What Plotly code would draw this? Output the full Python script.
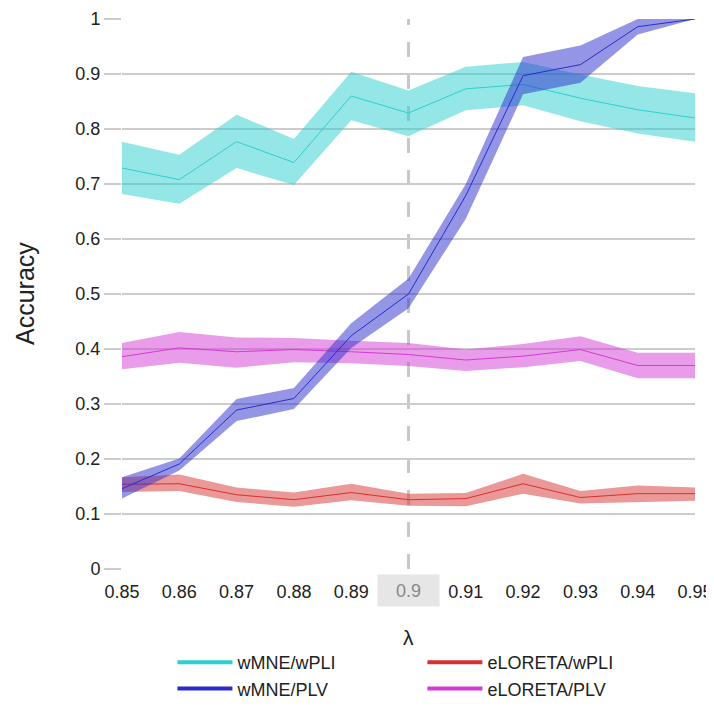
import plotly.graph_objects as go

lam = [0.85, 0.86, 0.87, 0.88, 0.89, 0.90, 0.91, 0.92, 0.93, 0.94, 0.95]

wmne_wpli_mean = [0.729, 0.708, 0.777, 0.739, 0.860, 0.829, 0.873, 0.881, 0.856, 0.835, 0.820]
wmne_wpli_hi = [0.777, 0.753, 0.826, 0.782, 0.904, 0.870, 0.913, 0.922, 0.899, 0.878, 0.865]
wmne_wpli_lo = [0.682, 0.664, 0.729, 0.698, 0.816, 0.787, 0.834, 0.843, 0.814, 0.792, 0.777]

wmne_plv_mean = [0.146, 0.191, 0.289, 0.310, 0.424, 0.500, 0.679, 0.897, 0.917, 0.986, 1.0]
wmne_plv_hi = [0.167, 0.201, 0.309, 0.329, 0.447, 0.528, 0.700, 0.931, 0.952, 1.0, 1.0]
wmne_plv_lo = [0.128, 0.179, 0.269, 0.291, 0.402, 0.474, 0.637, 0.863, 0.884, 0.972, 1.0]

eloreta_plv_mean = [0.386, 0.402, 0.395, 0.399, 0.395, 0.390, 0.380, 0.387, 0.399, 0.370, 0.370]
eloreta_plv_hi = [0.411, 0.431, 0.421, 0.420, 0.415, 0.411, 0.399, 0.409, 0.423, 0.393, 0.393]
eloreta_plv_lo = [0.363, 0.375, 0.366, 0.376, 0.374, 0.369, 0.360, 0.367, 0.378, 0.347, 0.347]

eloreta_wpli_mean = [0.154, 0.155, 0.135, 0.126, 0.139, 0.126, 0.128, 0.155, 0.130, 0.137, 0.137]
eloreta_wpli_hi = [0.167, 0.172, 0.148, 0.139, 0.155, 0.137, 0.138, 0.173, 0.142, 0.152, 0.148]
eloreta_wpli_lo = [0.140, 0.142, 0.122, 0.113, 0.125, 0.115, 0.114, 0.137, 0.119, 0.122, 0.124]

x_tick_vals = [0.85, 0.86, 0.87, 0.88, 0.89, 0.90, 0.91, 0.92, 0.93, 0.94, 0.95]
x_tick_text = ["0.85", "0.86", "0.87", "0.88", "0.89", "", "0.91", "0.92", "0.93", "0.94", "0.95"]
y_tick_vals = [0, 0.1, 0.2, 0.3, 0.4, 0.5, 0.6, 0.7, 0.8, 0.9, 1.0]
y_tick_text = ["0", "0.1", "0.2", "0.3", "0.4", "0.5", "0.6", "0.7", "0.8", "0.9", "1"]

series = [
    ("wMNE/wPLI", wmne_wpli_mean, wmne_wpli_lo, wmne_wpli_hi, "#2bd0d0", "rgba(43,208,208,0.5)"),
    ("eLORETA/wPLI", eloreta_wpli_mean, eloreta_wpli_lo, eloreta_wpli_hi, "#d63131", "rgba(214,49,49,0.5)"),
    ("eLORETA/PLV", eloreta_plv_mean, eloreta_plv_lo, eloreta_plv_hi, "#d43ad4", "rgba(212,58,212,0.5)"),
    ("wMNE/PLV", wmne_plv_mean, wmne_plv_lo, wmne_plv_hi, "#2b2bcc", "rgba(43,43,204,0.5)"),
]
legend_order = ["wMNE/wPLI", "eLORETA/wPLI", "wMNE/PLV", "eLORETA/PLV"]

fig = go.Figure()
for name, mean, lo, hi, col, fcol in series:
    fig.add_trace(go.Scatter(x=lam, y=lo, mode="lines", line=dict(width=0, color=col),
                             showlegend=False, hoverinfo="skip"))
    fig.add_trace(go.Scatter(x=lam, y=hi, mode="lines", line=dict(width=0, color=col),
                             fill="tonexty", fillcolor=fcol, showlegend=False, hoverinfo="skip"))
    fig.add_trace(go.Scatter(x=lam, y=mean, mode="lines", line=dict(width=1, color=col),
                             name=name, showlegend=False))

colors = {s[0]: s[4] for s in series}
for i, name in enumerate(legend_order):
    fig.add_trace(go.Scatter(x=[None], y=[None], mode="lines", name=name,
                             line=dict(width=4, color=colors[name]), legendrank=i + 1))

fig.add_shape(type="line", xref="x", yref="paper", x0=0.9, x1=0.9, y0=0, y1=1,
              line=dict(color="#c8c8c8", width=3, dash="15px,17px"), layer="below")

fig.add_annotation(x=0.9, xref="x", y=0, yref="paper", yanchor="middle", yshift=-21.5,
                   text="0.9", showarrow=False, bgcolor="#e6e6e6", width=59, height=29,
                   font=dict(size=18, color="#888888", family="Liberation Sans, Arial"))
fig.add_annotation(x=0.5, xref="paper", y=0, yref="paper", yanchor="middle", yshift=-68,
                   text="λ", showarrow=False,
                   font=dict(size=21, color="#222222", family="Liberation Sans, Arial"))
fig.add_annotation(x=0, xref="paper", y=0.5, yref="paper", xanchor="center", xshift=-97,
                   text="Accuracy", textangle=-90, showarrow=False,
                   font=dict(size=25, color="#222222", family="Liberation Sans, Arial"))

fig.update_layout(
    width=706, height=696,
    margin=dict(l=114, r=19, t=11, b=135, autoexpand=False),
    paper_bgcolor="white", plot_bgcolor="white",
    font=dict(family="Liberation Sans, Arial", size=18, color="#222222"),
    xaxis=dict(range=[0.85, 0.95], tickvals=x_tick_vals, ticktext=x_tick_text,
               showgrid=False, zeroline=False, showline=False,
               ticks="outside", ticklen=6, tickcolor="rgba(0,0,0,0)",
               ticklabeloverflow="allow",
               tickfont=dict(size=18, color="#222222")),
    yaxis=dict(range=[0, 1.0], tickvals=y_tick_vals, ticktext=y_tick_text,
               showgrid=True, gridcolor="#cccccc", gridwidth=2, zeroline=False,
               showline=False, ticks="outside", ticklen=17, tickcolor="#cccccc", tickwidth=2,
               ticklabeloverflow="allow",
               tickfont=dict(size=18, color="#222222")),
    showlegend=True,
    legend=dict(orientation="h", x=0.088, xanchor="left", y=-0.1364, yanchor="top",
                traceorder="normal",
                entrywidth=180, entrywidthmode="pixels", itemwidth=55,
                font=dict(size=18, color="#222222"), bgcolor="rgba(0,0,0,0)"),
)

fig.write_html("out.html")
